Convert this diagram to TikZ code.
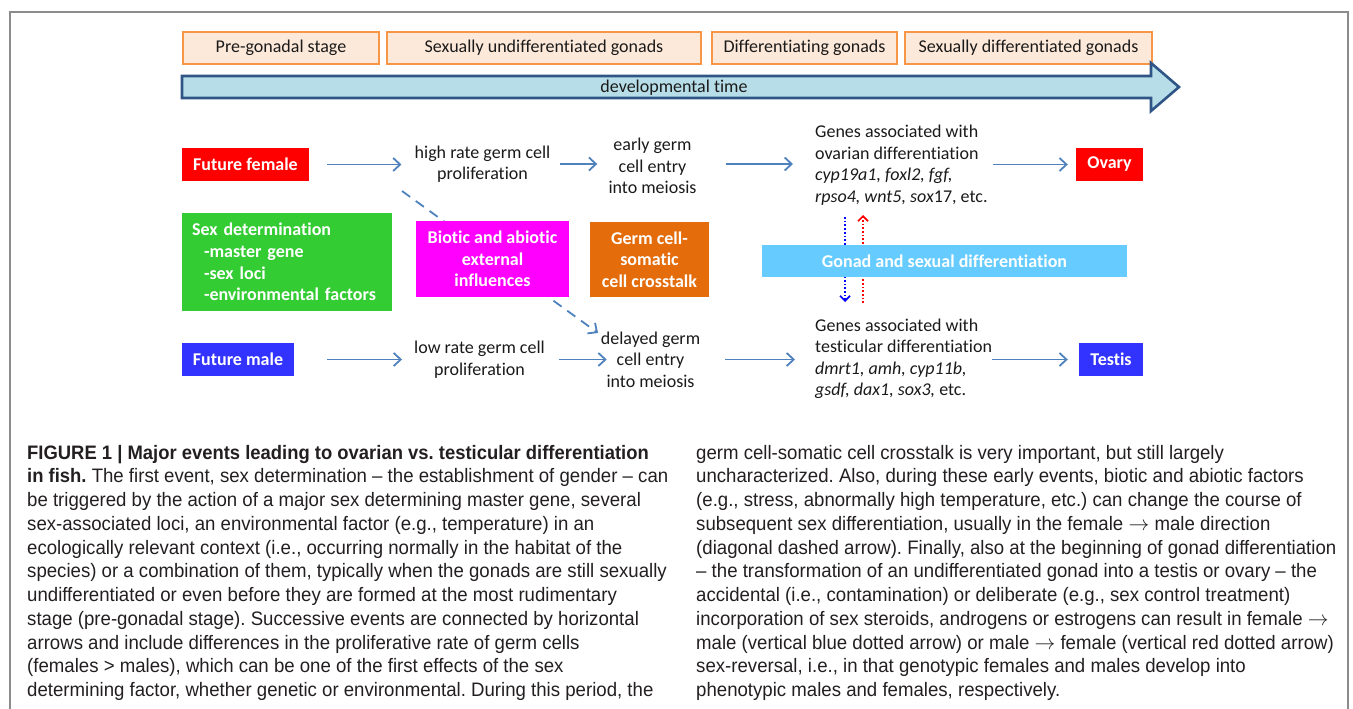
\documentclass[tikz,border=0pt]{standalone}
\usepackage{fontspec}
\setmainfont{Carlito}[Ligatures=NoCommon]
\newfontfamily\capfont[FakeStretch=0.955, BoldFeatures={FakeStretch=0.945}]{Liberation Sans}
\usetikzlibrary{arrows.meta}
\definecolor{hdrfill}{HTML}{FDE9D9}
\definecolor{hdrline}{HTML}{F79646}
\definecolor{timefill}{HTML}{B7DEE8}
\definecolor{timeline}{HTML}{2F5586}
\definecolor{arrcol}{HTML}{4F81BD}
\definecolor{femred}{HTML}{FF0000}
\definecolor{maleblue}{HTML}{3333FF}
\definecolor{sexgreen}{HTML}{33CC33}
\definecolor{biomag}{HTML}{FF00FF}
\definecolor{crossor}{HTML}{E46C0A}
\definecolor{gonadblue}{HTML}{66CCFF}
\definecolor{txtcol}{HTML}{1A1A1A}
\definecolor{captxt}{HTML}{231F20}
\definecolor{framecol}{HTML}{8C8C8C}
\begin{document}
\begin{tikzpicture}[x=1pt,y=-1pt,
  hdr/.style={draw=hdrline, fill=hdrfill, line width=1.3pt, minimum height=32pt, inner sep=0pt, text=txtcol, font=\fontsize{18}{21.5}\selectfont},
  colbox/.style={fill=#1, text=white, inner sep=0pt, align=center, font=\bfseries\fontsize{18}{21.7}\selectfont},
  txt/.style={inner sep=0pt, align=center, text=txtcol, font=\fontsize{18}{21.5}\selectfont},
  gene/.style={inner sep=0pt, align=left, text=txtcol, font=\fontsize{18}{21.5}\selectfont},
  arr/.style={draw=arrcol, line width=1.8pt, -{Straight Barb[length=7pt,width=13pt]}},
  dotarr/.style={draw=#1, line width=1.7pt, dash pattern=on 1.7pt off 2pt, -{Straight Barb[length=5pt,width=10pt]}},
  captext/.style={inner sep=0pt, align=left, text=captxt, font=\capfont\frenchspacing\fontsize{19.5}{23.75}\selectfont}
]
\useasboundingbox (0,0) rectangle (1353,709);
% frame
\draw[framecol, line width=1.2pt] (10,709) -- (10,12) -- (1348,12) -- (1348,709);

% header boxes
\node[hdr, minimum width=196pt] (h1) at (281,48) {Pre-gonadal stage};
\node[hdr, minimum width=314pt] (h2) at (544,48) {Sexually undifferentiated gonads};
\node[hdr, minimum width=185pt] (h3) at (804.5,48) {Differentiating gonads};
\node[hdr, minimum width=247pt] (h4) at (1028.5,48) {Sexually differentiated gonads};

% developmental time arrow
\draw[draw=timeline, fill=timefill, line width=2.6pt, line join=miter]
  (182,76) -- (1151,76) -- (1151,63) -- (1179,87) -- (1151,111) -- (1151,98) -- (182,98) -- cycle;
\node[txt] (dt) at (674,88) {developmental time};

% female row
\node[colbox=femred, minimum width=127pt, minimum height=33pt] (ff) at (245.5,164.5) {Future female};
\node[txt] (hr) at (482.5,164) {high rate germ cell\\proliferation};
\node[txt] (eg) at (652.5,166) {early germ\\cell entry\\into meiosis};
\node[gene, anchor=west] (gf) at (815,165) {Genes associated with\\ovarian differentiation\\\textit{cyp19a1, foxl2, fgf,}\\\textit{rpso4, wnt5, sox}17, etc.};
\node[colbox=femred, minimum width=67pt, minimum height=33pt] (ov) at (1109.5,164.5) {Ovary};

% male row
\node[colbox=maleblue, minimum width=112pt, minimum height=33pt] (fm) at (238,359.5) {Future male};
\node[txt] (lr) at (479.5,359.5) {low rate germ cell\\proliferation};
\node[txt] (dg) at (650.5,359.5) {delayed germ\\cell entry\\into meiosis};
\node[gene, anchor=west] (gm) at (815,359) {Genes associated with\\testicular differentiation\\\textit{dmrt1, amh, cyp11b,}\\\textit{gsdf, dax1, sox3,} etc.};
\node[colbox=maleblue, minimum width=64pt, minimum height=33pt] (te) at (1111,359.5) {Testis};

% horizontal arrows
\draw[arr, shorten <=18pt, shorten >=13pt] (ff.east) -- (ff.east -| hr.west);
\draw[arr, shorten <=9pt, shorten >=11pt] (hr.east) -- (hr.east -| eg.west);
\draw[arr, shorten <=29pt, shorten >=22pt] (eg.east |- hr.east) -- (hr.east -| gf.west);
\draw[arr, shorten <=5pt, shorten >=8pt] (gf.east |- ff.east) -- (ov.west);
\draw[arr, shorten <=33pt, shorten >=12pt] (fm.east) -- (fm.east -| lr.west);
\draw[arr, shorten <=14pt] (lr.east |- fm.east) -- ([xshift=6pt]dg.west |- fm.east);
\draw[arr, shorten <=25pt, shorten >=20pt] (dg.east |- fm.east) -- (gm.west |- fm.east);
\draw[arr, shorten <=0pt, shorten >=11pt] (gm.east |- fm.east) -- (te.west);

% diagonal dashed arrow (behind magenta box)
\coordinate (dsA) at (402,191);
\coordinate (dsB) at (598,333);
\draw[arr, dash pattern=on 10pt off 7pt] (dsA) -- (dsB);

% vertical dotted arrows (behind gonad box)
\coordinate (bTop) at (845,217);
\coordinate (bBot) at (845,302);
\coordinate (rTop) at (863,215);
\coordinate (rBot) at (863,303);
\draw[dotarr=blue] (bTop) -- (bBot);
\draw[dotarr=red] (rBot) -- (rTop);

% middle boxes
\node[colbox=sexgreen, align=left, text width=190pt, inner xsep=10pt, minimum height=98pt] (sd) at (287,262)
  {Sex determination\\\hspace*{12pt}-master gene\\\hspace*{12pt}-sex loci\\\hspace*{12pt}-environmental factors};
\node[colbox=biomag, minimum width=153pt, minimum height=76pt] (bio) at (492.5,259) {Biotic and abiotic\\external\\influences};
\node[colbox=crossor, minimum width=119pt, minimum height=75pt] (gc) at (649.5,259.5) {Germ cell-\\somatic\\cell crosstalk};
\node[colbox=gonadblue, minimum width=365pt, minimum height=32pt] (gd) at (944.5,261) {Gonad and sexual differentiation};

% caption
\node[captext, anchor=north west] (capL) at (27,444.7) {\textbf{FIGURE 1 | Major events leading to ovarian vs. testicular differentiation}\\
\textbf{in fish.} The first event, sex determination – the establishment of gender – can\\
be triggered by the action of a major sex determining master gene, several\\
sex-associated loci, an environmental factor (e.g., temperature) in an\\
ecologically relevant context (i.e., occurring normally in the habitat of the\\
species) or a combination of them, typically when the gonads are still sexually\\
undifferentiated or even before they are formed at the most rudimentary\\
stage (pre-gonadal stage). Successive events are connected by horizontal\\
arrows and include differences in the proliferative rate of germ cells\\
(females > males), which can be one of the first effects of the sex\\
determining factor, whether genetic or environmental. During this period, the};
\node[captext, anchor=north west] (capR) at (696,444.7) {germ cell-somatic cell crosstalk is very important, but still largely\\
uncharacterized. Also, during these early events, biotic and abiotic factors\\
(e.g., stress, abnormally high temperature, etc.) can change the course of\\
subsequent sex differentiation, usually in the female $\rightarrow$ male direction\\
(diagonal dashed arrow). Finally, also at the beginning of gonad differentiation\\
– the transformation of an undifferentiated gonad into a testis or ovary – the\\
accidental (i.e., contamination) or deliberate (e.g., sex control treatment)\\
incorporation of sex steroids, androgens or estrogens can result in female $\rightarrow$\\
male (vertical blue dotted arrow) or male $\rightarrow$ female (vertical red dotted arrow)\\
sex-reversal, i.e., in that genotypic females and males develop into\\
phenotypic males and females, respectively.};
\end{tikzpicture}
\end{document}
